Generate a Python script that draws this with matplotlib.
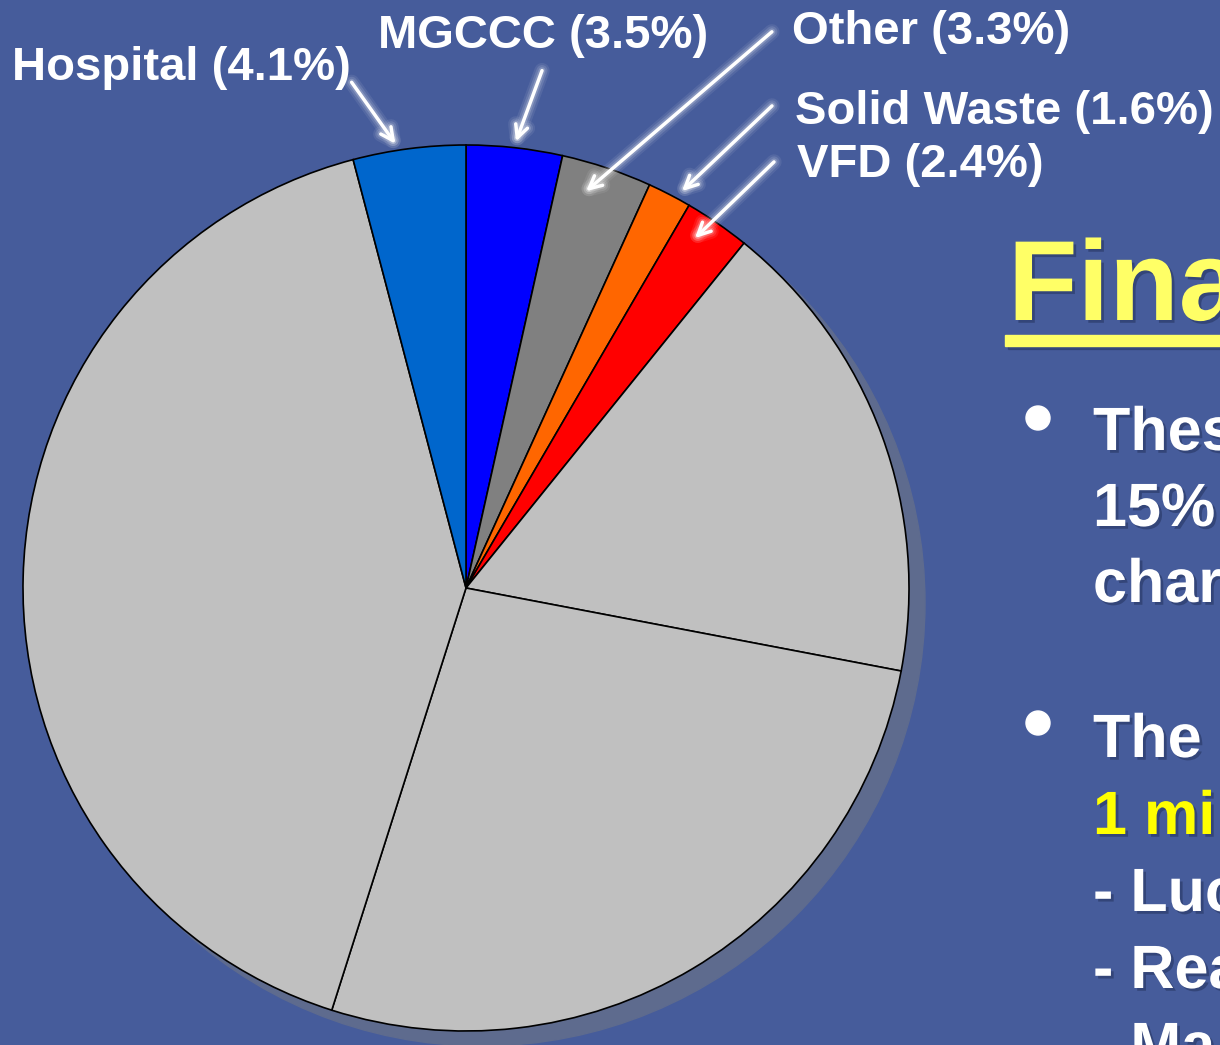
import matplotlib.pyplot as plt
import matplotlib.patheffects as pe
from matplotlib.patches import Circle, Rectangle

# slice data, clockwise from 12 o'clock
names = ['MGCCC', 'Other', 'Solid Waste', 'VFD', '', '', '', 'Hospital']
shares = [3.5, 3.3, 1.6, 2.4, 17.2, 26.9, 41.0, 4.1]
colors = ['#0000FF', '#808080', '#FF6600', '#FF0000',
          '#C0C0C0', '#C0C0C0', '#C0C0C0', '#0066CC']

bullet1 = ['Thes', '15%', 'char']
bullet2 = ['The', '1 mi', '- Luc', '- Rea', '- Ma']

W, H = 1220, 1045
bg = '#465C9B'
plt.rcParams['font.family'] = ['Liberation Sans', 'DejaVu Sans']


def py(y):
    # pixel row from top -> data y
    return H - y


fig = plt.figure(figsize=(W / 100, H / 100), dpi=100, facecolor=bg)
ax = fig.add_axes([0, 0, 1, 1])
ax.set_facecolor(bg)

cx, cy, r = 466, py(588), 443
ax.add_patch(Circle((cx + 16, cy - 15), r, color='#5E6B8E', zorder=0))
ax.pie(shares, colors=colors, startangle=90, counterclock=False,
       center=(cx, cy), radius=r,
       wedgeprops=dict(edgecolor='black', linewidth=1.2))
ax.set_xlim(0, W)
ax.set_ylim(0, H)
ax.set_aspect('equal')
ax.axis('off')

glow = [pe.Stroke(linewidth=11, foreground='white', alpha=0.08),
        pe.Stroke(linewidth=8, foreground='white', alpha=0.12),
        pe.Stroke(linewidth=5, foreground='white', alpha=0.2),
        pe.Normal()]

labels = [('Hospital (4.1%)', 12, 80, (350, 80), (397, 146)),
          ('MGCCC (3.5%)', 378, 48, (543, 68), (515, 144)),
          ('Other (3.3%)', 792, 44, (774, 30), (584, 193)),
          ('Solid Waste (1.6%)', 795, 124, (774, 104), (680, 193)),
          ('VFD (2.4%)', 797, 177, (776, 160), (693, 240))]
for txt, tx, ty, p0, p1 in labels:
    ax.text(tx, py(ty), txt, color='white', fontsize=34, fontweight='bold',
            ha='left', va='baseline', zorder=5)
    ax.annotate('', xy=(p1[0], py(p1[1])), xytext=(p0[0], py(p0[1])),
                arrowprops=dict(arrowstyle='->,head_length=0.9,head_width=0.45',
                                color='white', lw=2.5,
                                path_effects=glow), zorder=6)

shadow = [pe.SimplePatchShadow(offset=(2, -2), shadow_rgbFace='#1E2A50', alpha=0.45),
          pe.Normal()]

ax.text(1008, py(320), 'Fina', color='#FFFF66', fontsize=82, fontweight='bold',
        ha='left', va='baseline', path_effects=shadow, zorder=5)
ax.add_patch(Rectangle((1005, py(346)), 230, 11, color='#FFFF66', zorder=5))
ax.add_patch(Rectangle((1008, py(349)), 230, 11, color='#1E2A50', alpha=0.35, zorder=4))

ax.add_patch(Circle((1038, py(418)), 12, color='white', zorder=5))
for i, line in enumerate(bullet1):
    ax.text(1093, py(450 + i * 76), line, color='white', fontsize=44,
            fontweight='bold', ha='left', va='baseline', path_effects=shadow)

ax.add_patch(Circle((1038, py(723)), 12, color='white', zorder=5))
for i, line in enumerate(bullet2):
    col = '#FFFF00' if i == 1 else 'white'
    ax.text(1093, py(757 + i * 77), line, color=col, fontsize=44,
            fontweight='bold', ha='left', va='baseline', path_effects=shadow)

fig.savefig('out.png', dpi=100, facecolor=bg)
